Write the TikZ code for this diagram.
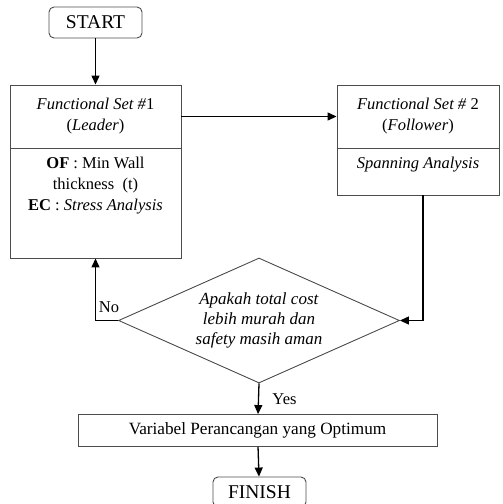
\documentclass[tikz,border=0pt]{standalone}
\usepackage{fontspec}
\setmainfont{Liberation Serif}
\usetikzlibrary{shapes.geometric,arrows.meta}

\tikzset{
  box/.style={draw=black!70, line width=0.9pt, inner sep=0pt},
  term/.style={box, rounded corners=5pt, minimum width=93pt, font=\fontsize{19.5}{21}\selectfont},
  txt/.style={align=center, font=\fontsize{16.5}{21}\selectfont},
  arr/.style={-{Triangle[length=9pt,width=8pt]}, line width=1.3pt},
}

\begin{document}
\begin{tikzpicture}[x=1pt,y=-1pt]
        \useasboundingbox (0,0) rectangle (503,504);

        \node[term, minimum height=31pt] (start) at (95.5,22.5) {START};

        \node[box, txt, minimum width=171pt, minimum height=63pt] (fs1a) at (95.5,116.5)
          {\textit{Functional Set \#}1\\(\textit{Leader})};
        \node[box, minimum width=171pt, minimum height=110pt] (fs1b) at (95.5,203) {};
        \node[txt] (fs1t) at (95.5,186)
          {\textbf{OF} : Min Wall\\thickness\ \ (t)\\\textbf{EC} : \textit{Stress Analysis}};

        \node[box, txt, minimum width=162pt, minimum height=63pt] (fs2a) at (418,116.5)
          {\textit{Functional Set \#} 2\\(\textit{Follower})};
        \node[box, minimum width=162pt, minimum height=47pt] (fs2b) at (418,171.5) {};
        \node[txt] (fs2t) at (418,165) {\textit{Spanning Analysis}};

        \node[box, diamond, aspect=2.25, minimum width=281pt, minimum height=125pt, txt,
              font=\fontsize{17}{20}\selectfont] (cek) at (259,320.5)
          {\textit{Apakah total cost}\\\textit{lebih murah dan}\\\textit{safety masih aman}};

        \node[box, txt, minimum width=359pt, minimum height=32pt,
              font=\fontsize{17.2}{20}\selectfont] (optimum) at (257.5,430.5)
          {Variabel Perancangan yang Optimum};

        \node[term, minimum height=30pt] (finish) at (259.5,492) {FINISH};

        % arrows
        \draw[arr] (start) -- (fs1a);
        \draw[arr] (fs1a) -- (fs2a);
        \draw[arr] ([xshift=5pt]fs2b.south) |- (cek.east);
        \draw[arr] (cek.west) -| node[txt, pos=0.2, above, yshift=4pt]{No} (fs1b.south);
        \draw[arr] (cek.south) -- node[txt, pos=0.5, right, xshift=10pt]{Yes} (optimum);
        \draw[arr] (optimum) -- (finish);
      \end{tikzpicture}
\end{document}
